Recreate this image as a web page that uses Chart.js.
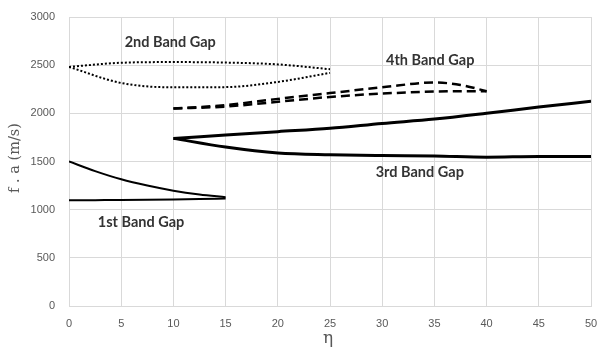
<!DOCTYPE html>
<html><head><meta charset="utf-8">
<script src="https://cdn.jsdelivr.net/npm/chart.js@4"></script>
<style>html,body{margin:0;padding:0;background:#fff}#wrap{width:597px;height:351px;position:relative}</style>
</head><body><div id="wrap"><canvas id="c" width="597" height="351"></canvas></div>
<script>
// Tick values on both axes
const etaTicks = [0, 5, 10, 15, 20, 25, 30, 35, 40, 45, 50];
const faTicks = [0, 500, 1000, 1500, 2000, 2500, 3000];

// Band gap edges: normalized frequency f·a (m/s) against η
const band1Eta = [0, 2.5, 5, 7.5, 10, 12.5, 15];
const band1Upper = [1500, 1400, 1315, 1250, 1197, 1158, 1130];
const band1Lower = [1098, 1099, 1100, 1102, 1105, 1110, 1116];

const band2Eta = [0, 5, 10, 15, 20, 25];
const band2Upper = [2482, 2525, 2532, 2527, 2508, 2458];
const band2Lower = [2482, 2315, 2270, 2272, 2326, 2420];

const band3Eta = [10, 15, 20, 25, 30, 35, 40, 45, 50];
const band3Upper = [1740, 1775, 1810, 1845, 1895, 1940, 2000, 2065, 2125];
const band3Lower = [1740, 1650, 1588, 1570, 1562, 1558, 1545, 1552, 1552];

const band4Eta = [10, 15, 20, 25, 30, 35, 37.5, 40];
const band4Upper = [2050, 2085, 2150, 2210, 2270, 2320, 2295, 2230];
const band4Lower = [2050, 2070, 2120, 2170, 2205, 2226, 2230, 2230];

// Annotation text and where it sits, in axis units
const gapNames = ['1st Band Gap', '2nd Band Gap', '3rd Band Gap', '4th Band Gap'];
const gapNameEta = [6.9, 9.7, 33.6, 34.6];
const gapNameFa = [872, 2740, 1391, 2554];

const toPts = (xs, ys) => xs.map((x, i) => ({ x, y: ys[i] }));

const solidThin = { borderWidth: 2 };
const solidThick = { borderWidth: 3 };
const dotted = { borderWidth: 2, borderDash: [2, 2] };
const dashed = { borderWidth: 2.5, borderDash: [9, 5] };

function edge(xs, ys, style) {
  return Object.assign({
    data: toPts(xs, ys),
    showLine: true,
    borderColor: '#000',
    pointRadius: 0,
    fill: false,
    cubicInterpolationMode: 'monotone'
  }, style);
}

const datasets = [
  edge(band1Eta, band1Upper, solidThin),
  edge(band1Eta, band1Lower, solidThin),
  edge(band2Eta, band2Upper, dotted),
  edge(band2Eta, band2Lower, dotted),
  edge(band3Eta, band3Upper, solidThick),
  edge(band3Eta, band3Lower, solidThick),
  edge(band4Eta, band4Upper, dashed),
  edge(band4Eta, band4Lower, dashed)
];

const annotate = {
  id: 'annotate',
  afterDatasetsDraw(chart) {
    const { ctx, scales: { x, y } } = chart;
    ctx.save();
    ctx.fillStyle = '#333';
    ctx.font = 'bold 14.5px Lato, sans-serif';
    ctx.textAlign = 'center';
    ctx.textBaseline = 'middle';
    gapNames.forEach((t, i) => {
      ctx.fillText(t, x.getPixelForValue(gapNameEta[i]), y.getPixelForValue(gapNameFa[i]));
    });
    // axis titles
    ctx.fillStyle = '#595959';
    ctx.font = '17px "DejaVu Serif", serif';
    ctx.fillText('η', (chart.chartArea.left + chart.chartArea.right) / 2 - 2, 339);
    ctx.translate(15, 158);
    ctx.rotate(-Math.PI / 2);
    ctx.font = '14.5px "DejaVu Serif", serif';
    ctx.fillText('f . a (m/s)', 0, 0);
    ctx.restore();
  }
};

const plainTicks = {
  color: '#595959',
  font: { family: '"Liberation Sans", sans-serif', size: 11 },
  callback: v => String(v)
};

new Chart(document.getElementById('c'), {
  type: 'scatter',
  data: { datasets },
  options: {
    responsive: false,
    animation: false,
    layout: { padding: { left: 0, right: 6, top: 17, bottom: 0 } },
    plugins: { legend: { display: false }, tooltip: { enabled: false } },
    scales: {
      x: {
        type: 'linear', min: 0, max: 50,
        afterBuildTicks: s => { s.ticks = etaTicks.map(v => ({ value: v })); },
        afterFit: s => { s.height = 45; s.paddingLeft = 0; s.paddingRight = 0; },
        grid: { color: '#d9d9d9', drawTicks: false },
        border: { color: '#d9d9d9' },
        ticks: Object.assign({ padding: 11 }, plainTicks)
      },
      y: {
        type: 'linear', min: 0, max: 3000,
        afterBuildTicks: s => { s.ticks = faTicks.map(v => ({ value: v })); },
        afterFit: s => { s.width = 69; s.paddingTop = 0; s.paddingBottom = 0; },
        grid: { color: '#d9d9d9', drawTicks: false },
        border: { color: '#d9d9d9' },
        ticks: Object.assign({ padding: 14 }, plainTicks)
      }
    }
  },
  plugins: [annotate]
});
</script></body></html>
